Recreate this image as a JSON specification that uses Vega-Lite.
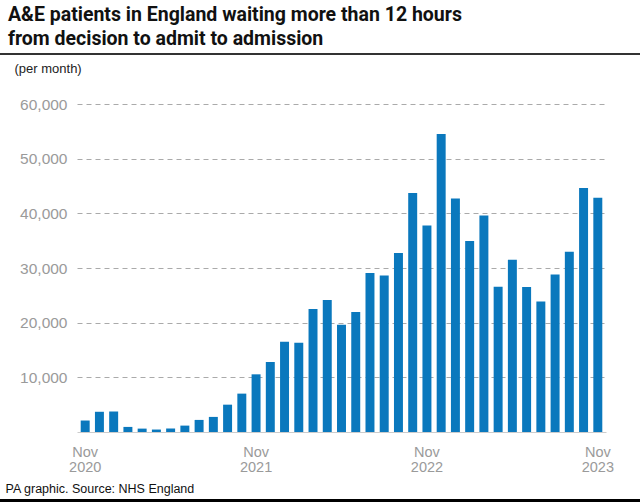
{
  "$schema": "https://vega.github.io/schema/vega-lite/v6.json",
  "width": 529,
  "height": 328,
  "autosize": "none",
  "padding": {"left": 77, "top": 104, "right": 34, "bottom": 70},
  "background": "white",
  "config": {"view": {"stroke": null}, "font": "Liberation Sans"},
  "title": {
    "text": ["A&E patients in England waiting more than 12 hours", "from decision to admit to admission"],
    "anchor": "start",
    "frame": "group",
    "dx": -69,
    "font": "Roboto",
    "fontSize": 19.5,
    "fontWeight": "bold",
    "lineHeight": 24,
    "color": "#111111",
    "offset": 4
  },
  "data": {"values": [
    {"month": "2020-11", "patients": 2100},
    {"month": "2020-12", "patients": 3700},
    {"month": "2021-01", "patients": 3750},
    {"month": "2021-02", "patients": 930},
    {"month": "2021-03", "patients": 620},
    {"month": "2021-04", "patients": 450},
    {"month": "2021-05", "patients": 620},
    {"month": "2021-06", "patients": 1170},
    {"month": "2021-07", "patients": 2210},
    {"month": "2021-08", "patients": 2760},
    {"month": "2021-09", "patients": 5000},
    {"month": "2021-10", "patients": 7020},
    {"month": "2021-11", "patients": 10550},
    {"month": "2021-12", "patients": 12810},
    {"month": "2022-01", "patients": 16530},
    {"month": "2022-02", "patients": 16340},
    {"month": "2022-03", "patients": 22500},
    {"month": "2022-04", "patients": 24150},
    {"month": "2022-05", "patients": 19630},
    {"month": "2022-06", "patients": 21950},
    {"month": "2022-07", "patients": 29090},
    {"month": "2022-08", "patients": 28650},
    {"month": "2022-09", "patients": 32740},
    {"month": "2022-10", "patients": 43700},
    {"month": "2022-11", "patients": 37790},
    {"month": "2022-12", "patients": 54500},
    {"month": "2023-01", "patients": 42720},
    {"month": "2023-02", "patients": 34930},
    {"month": "2023-03", "patients": 39610},
    {"month": "2023-04", "patients": 26580},
    {"month": "2023-05", "patients": 31510},
    {"month": "2023-06", "patients": 26530},
    {"month": "2023-07", "patients": 23890},
    {"month": "2023-08", "patients": 28830},
    {"month": "2023-09", "patients": 32980},
    {"month": "2023-10", "patients": 44620},
    {"month": "2023-11", "patients": 42850}
  ]},
  "layer": [
    {
      "mark": {"type": "bar", "color": "#0a78bd"},
      "encoding": {
        "x": {
          "field": "month",
          "type": "ordinal",
          "sort": null,
          "scale": {"paddingInner": 0.37, "paddingOuter": 0.26},
          "axis": {
            "values": ["2020-11", "2021-11", "2022-11", "2023-11"],
            "labelExpr": "['Nov', slice(datum.value, 0, 4)]",
            "labelAngle": 0,
            "labelFontSize": 14.5,
            "labelColor": "#9a9a9a",
            "labelPadding": 13,
            "labelLineHeight": 15,
            "ticks": false,
            "domain": true,
            "domainColor": "#cccccc",
            "title": "PA graphic. Source: NHS England",
            "titleAnchor": "start",
            "titleAlign": "left",
            "titleX": -72,
            "titleY": 60,
            "titleBaseline": "alphabetic",
            "titleFontSize": 12.5,
            "titleFontWeight": "normal",
            "titleColor": "#111111"
          }
        },
        "y": {
          "field": "patients",
          "type": "quantitative",
          "scale": {"domain": [0, 60000], "nice": false},
          "axis": {
            "values": [10000, 20000, 30000, 40000, 50000, 60000],
            "format": ",d",
            "grid": true,
            "gridDash": [5, 4],
            "gridColor": "#aaaaaa",
            "domain": false,
            "ticks": false,
            "labelFontSize": 15.5,
            "labelColor": "#9a9a9a",
            "labelPadding": 10,
            "title": "(per month)",
            "titleAngle": 0,
            "titleAlign": "left",
            "titleX": -63,
            "titleY": -32,
            "titleBaseline": "alphabetic",
            "titleFontSize": 13,
            "titleFontWeight": "normal",
            "titleColor": "#222222"
          }
        }
      }
    },
    {
      "data": {"values": [{}]},
      "mark": {"type": "rule", "color": "#333333", "strokeWidth": 2},
      "encoding": {"x": {"value": -77}, "x2": {"value": 563}, "y": {"value": -50}}
    },
    {
      "data": {"values": [{}]},
      "mark": {"type": "rule", "color": "#000000", "strokeWidth": 3},
      "encoding": {"x": {"value": -77}, "x2": {"value": 563}, "y": {"value": 396.5}}
    }
  ]
}
